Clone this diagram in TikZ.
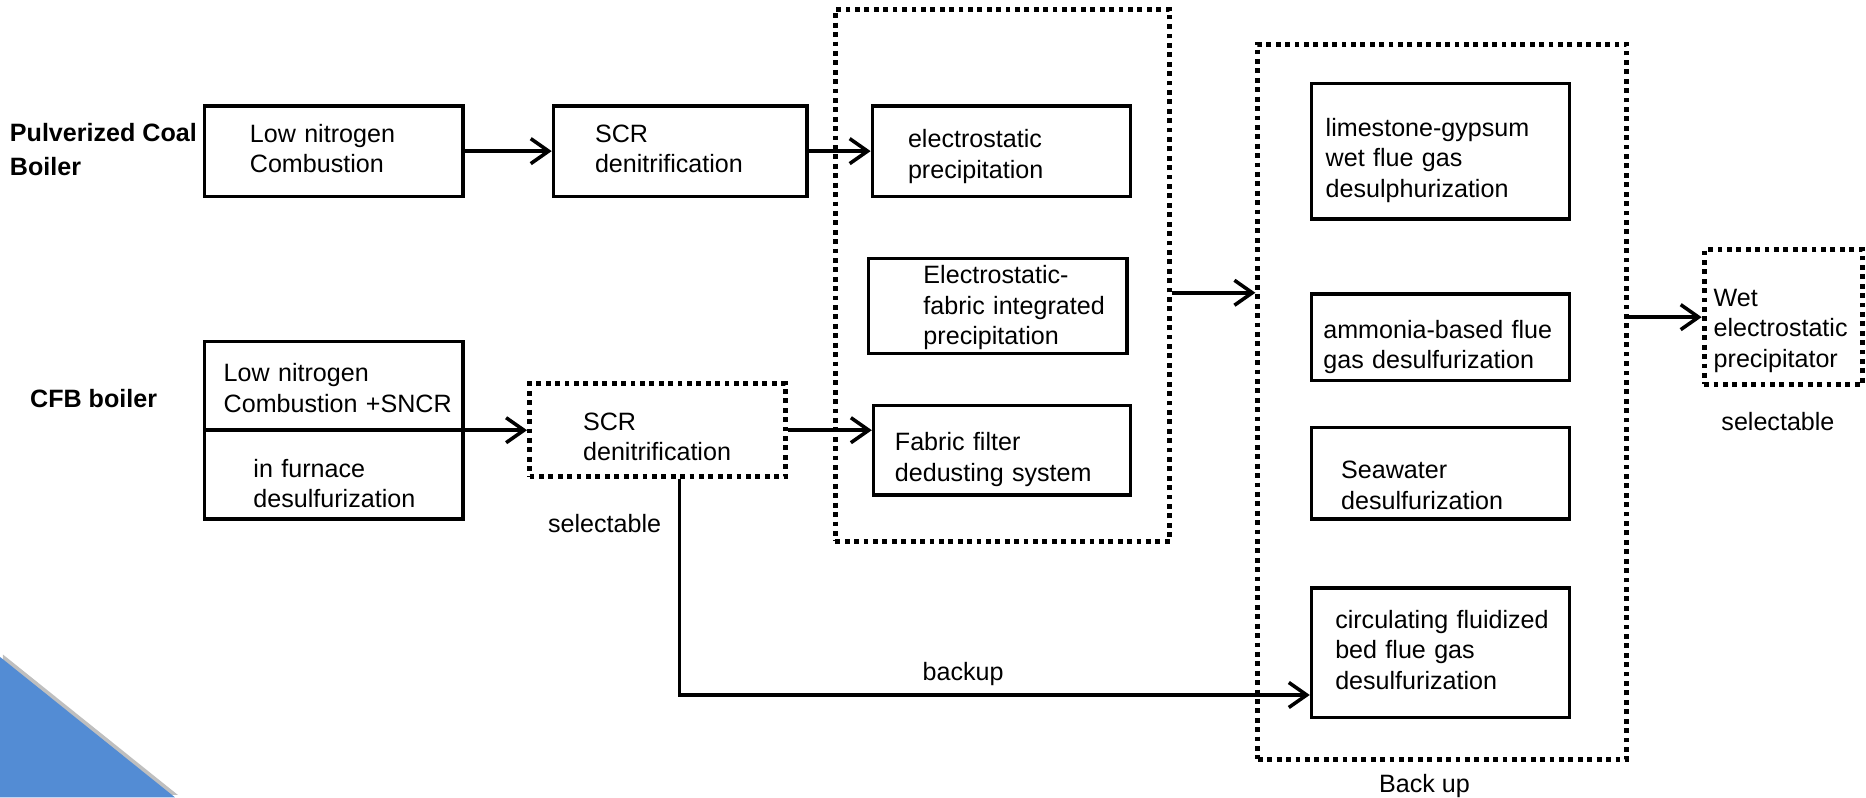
\documentclass[tikz,border=0pt]{standalone}
\usepackage{fontspec}
\setmainfont{Liberation Sans}
\usepackage{tikz}
\usetikzlibrary{arrows.meta,positioning,calc,shadows}
\definecolor{slideBlue}{RGB}{83, 140, 212}
% text block inside a box, optionally lowered
\newcommand{\boxlines}[2][0pt]{\raisebox{-#1}[\height][\depth]{\begin{tabular}{@{}l@{}}#2\end{tabular}}}

\begin{document}
\begin{tikzpicture}[
        font=\fontsize{12}{14.5}\selectfont,
        box/.style={rectangle, draw=black, line width=1.6pt, inner xsep=0pt, inner ysep=1pt, align=left},
        optbox/.style={box, line width=2.4pt, dash pattern=on 2.3pt off 2.2pt},
        group/.style={rectangle, draw=black, line width=2.4pt, dash pattern=on 2.3pt off 2.2pt},
        boiler/.style={font=\fontsize{12}{16.5}\selectfont\bfseries, align=left, inner sep=0pt},
        note/.style={inner sep=0pt},
        arrow/.style={-{Straight Barb[length=0.3cm, width=0.42cm]}, line width=1.7pt}
    ]
        \useasboundingbox (0,0) rectangle (31.36,-13.4);

        % Corner decoration
        \fill[slideBlue, drop shadow={shadow xshift=0.05cm, shadow yshift=0.04cm, opacity=0.5}] (0,-11.04) -- (2.94,-13.4) -- (0,-13.4) -- cycle;

        % Boiler types
        \node[boiler, anchor=west] (pcb) at (0.16,-2.51) {Pulverized Coal\\Boiler};
        \node[boiler, anchor=west] (cfbl) at (0.5,-6.7) {CFB boiler};

        % Denitrification
        \node[box, minimum width=4.34cm, minimum height=1.52cm, text width=2.82cm] (lnc) at (5.61,-2.54) {\boxlines{Low nitrogen\\Combustion}};
        \node[box, minimum width=4.26cm, minimum height=1.52cm, text width=2.86cm] (scr) at (11.43,-2.54) {\boxlines{SCR\\denitrification}};
        \node[box, minimum width=4.34cm, minimum height=2.98cm, text width=3.7cm] (cfb) at (5.61,-7.23) {\boxlines[0.14cm]{Low nitrogen\\Combustion +SNCR\\[0.58cm]\hspace*{0.5cm}in furnace\\\hspace*{0.5cm}desulfurization}};
        \node[optbox, minimum width=4.3cm, minimum height=1.56cm, text width=2.5cm] (scropt) at (11.05,-7.23) {\boxlines[0.16cm]{SCR\\denitrification}};
        \node[note] (scrsel) at (10.16,-8.8) {selectable};

        % Dedusting
        \node[group, minimum width=5.62cm, minimum height=8.94cm] (dedust) at (16.85,-4.63) {};
        \node[box, minimum width=4.34cm, minimum height=1.52cm, text width=3.14cm] (esp) at (16.83,-2.54) {\boxlines[0.1cm]{electrostatic\\precipitation}};
        \node[box, minimum width=4.34cm, minimum height=1.56cm, text width=2.5cm] (efip) at (16.77,-5.14) {\boxlines[0.04cm]{Electrostatic-\\fabric integrated\\precipitation}};
        \node[box, minimum width=4.32cm, minimum height=1.5cm, text width=3.6cm] (ffd) at (16.84,-7.57) {\boxlines[0.16cm]{Fabric filter\\dedusting system}};

        % Desulfurization
        \node[group, minimum width=6.2cm, minimum height=12.02cm] (desulf) at (24.24,-6.75) {};
        \node[note, below=0.2cm of desulf, xshift=-0.3cm] (backuplbl) {Back up};
        \node[box, minimum width=4.34cm, minimum height=2.28cm, text width=3.86cm] (lgwet) at (24.21,-2.54) {\boxlines[0.16cm]{limestone-gypsum\\wet flue gas\\desulphurization}};
        \node[box, minimum width=4.34cm, minimum height=1.46cm, text width=3.94cm] (ammonia) at (24.21,-5.67) {\boxlines[0.17cm]{ammonia-based flue\\gas desulfurization}};
        \node[box, minimum width=4.34cm, minimum height=1.54cm, text width=3.34cm] (seawater) at (24.21,-7.95) {\boxlines[0.25cm]{Seawater\\desulfurization}};
        \node[box, minimum width=4.34cm, minimum height=2.18cm, text width=3.54cm] (cfbfgd) at (24.21,-10.97) {\boxlines{circulating fluidized\\bed flue gas\\desulfurization}};

        % Wet ESP
        \node[optbox, minimum width=2.66cm, minimum height=2.26cm, text width=2.34cm] (wesp) at (29.97,-5.33) {\boxlines[0.23cm]{Wet\\electrostatic\\precipitator}};
        \node[note] (wespsel) at (29.88,-7.08) {selectable};

        % Arrows
        \draw[arrow] (lnc) -- (scr);
        \draw[arrow] (scr) -- (esp);
        \draw[arrow] (cfb.west) -- (scropt.west);
        \draw[arrow] (scropt.east) -- (scropt.east -| ffd.west);
        \draw[arrow] ([yshift=-0.29cm]dedust.east) -- ([yshift=-0.29cm]dedust.east -| desulf.west);
        \draw[arrow] (desulf.east |- wesp.west) -- (wesp.west);
        \draw[arrow] ([xshift=0.37cm]scropt.south) |- node[pos=0.725, above=0.12cm, inner sep=0pt] {backup} ([yshift=-0.71cm]cfbfgd.west);

    \end{tikzpicture}
\end{document}
